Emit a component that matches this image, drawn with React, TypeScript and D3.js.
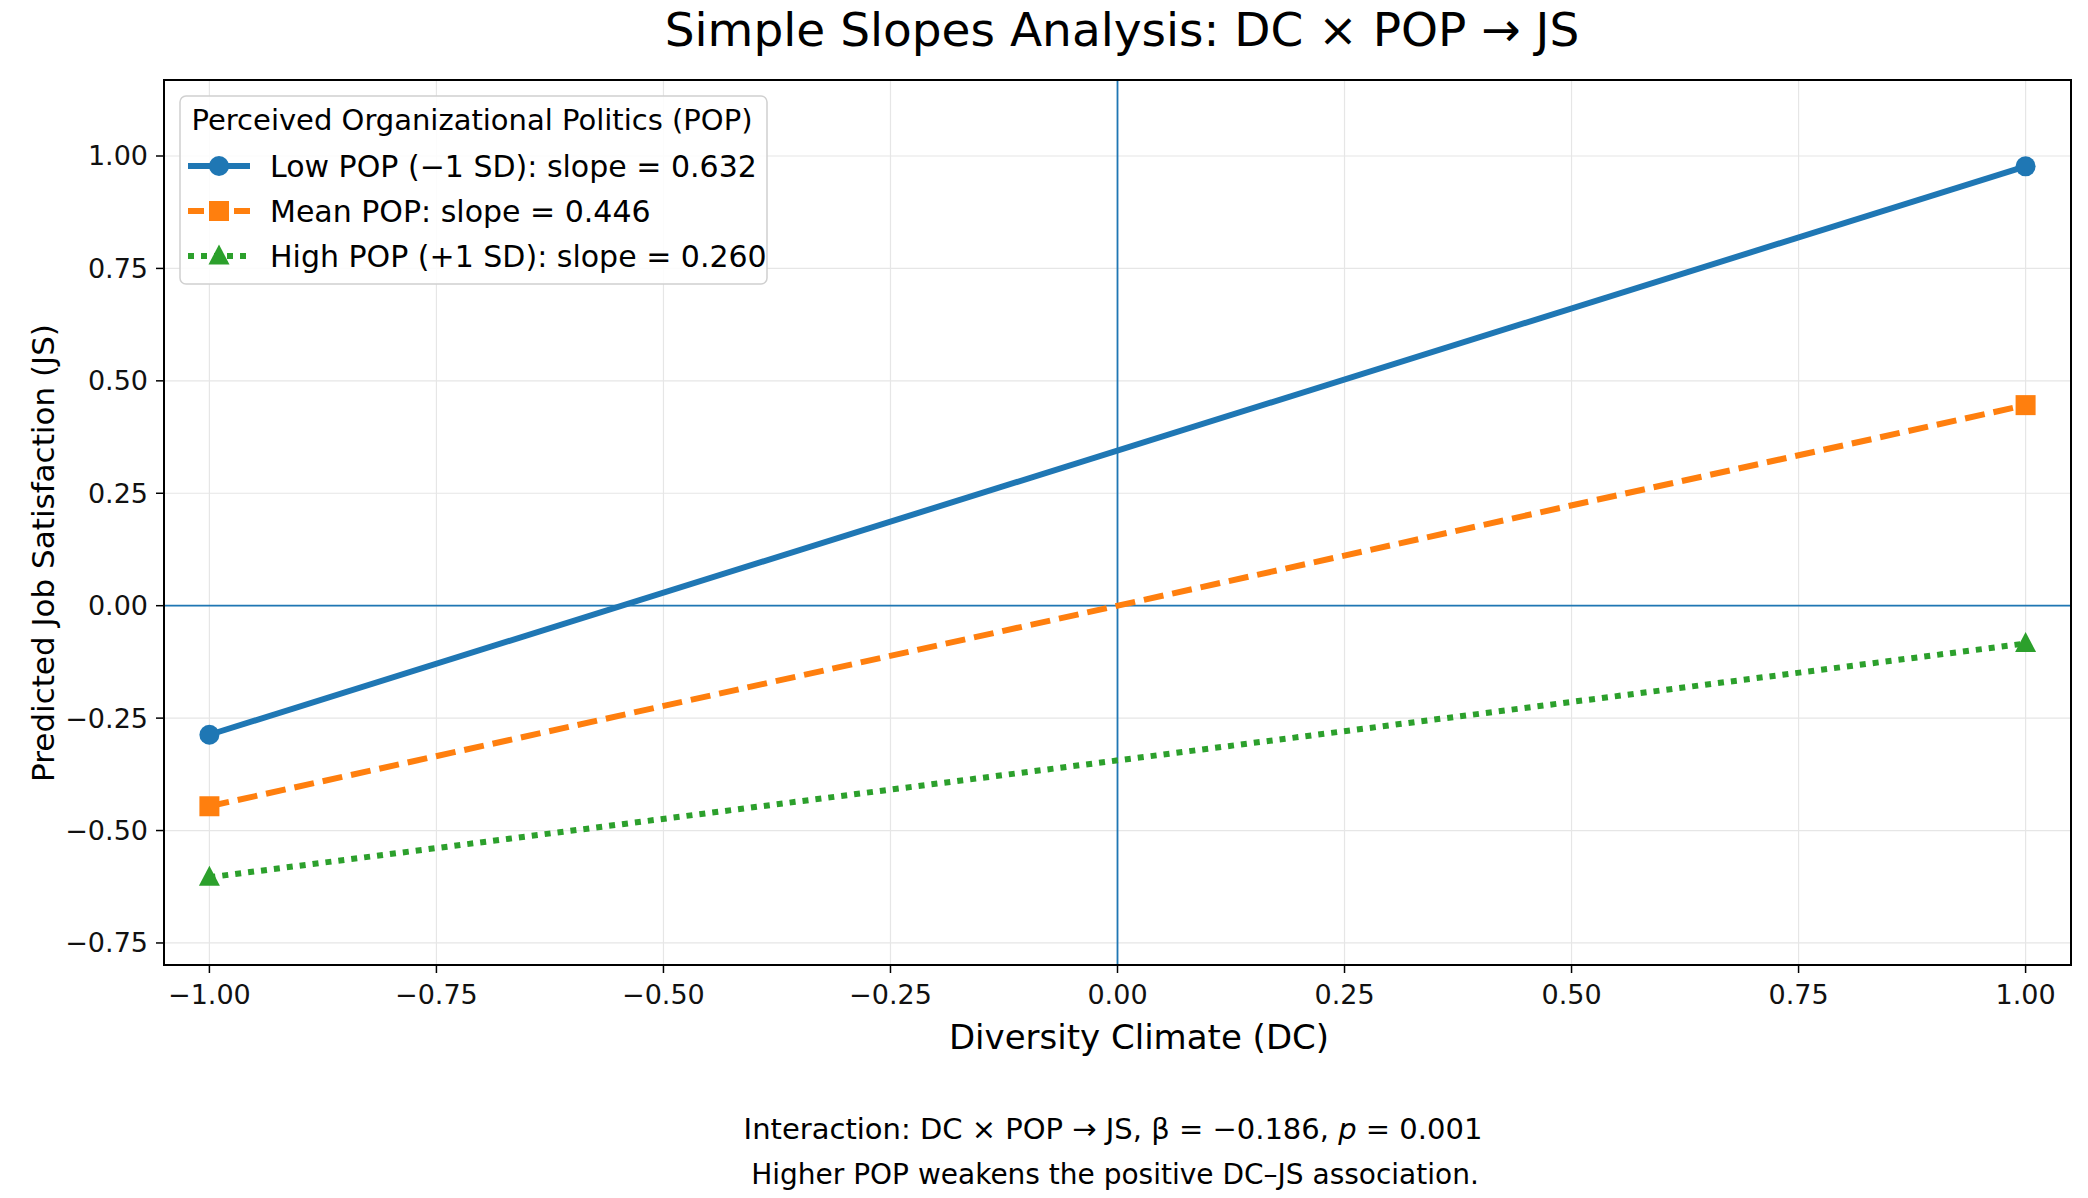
import { useEffect, useRef } from "react";
import * as d3 from "d3";

// DC levels (-1 SD, +1 SD)
const xLevels = [-1, 1];
const seriesNames = ["Low POP (\u22121 SD): slope = 0.632", "Mean POP: slope = 0.446", "High POP (+1 SD): slope = 0.260"];
const lowValues = [-0.287, 0.977];
const meanValues = [-0.446, 0.446];
const highValues = [-0.604, -0.084];
const colors = ["#1f77b4", "#ff7f0e", "#2ca02c"];
const dashes = ["none", "20,9", "6,7"];
const markers = ["circle", "square", "triangle"];
const xTicks = [-1, -0.75, -0.5, -0.25, 0, 0.25, 0.5, 0.75, 1];
const yTicks = [-0.75, -0.5, -0.25, 0, 0.25, 0.5, 0.75, 1];

const W = 2088;
const H = 1198;
const FONT = "DejaVu Sans, sans-serif";

export default function App() {
  const ref = useRef<SVGSVGElement>(null);

  useEffect(() => {
    const svg = d3.select(ref.current);
    svg.selectAll("*").remove();

    const left = 164, right = 2071, top = 80, bottom = 965;
    const x = d3.scaleLinear().domain([-1.05, 1.05]).range([left, right]);
    const y = d3.scaleLinear().domain([-0.799, 1.169]).range([bottom, top]);

    svg.append("rect").attr("width", W).attr("height", H).attr("fill", "#fff");

    // grid
    const grid = svg.append("g").attr("stroke", "#e6e6e6").attr("stroke-width", 1.2);
    xTicks.forEach((t) => grid.append("line").attr("x1", x(t)).attr("x2", x(t)).attr("y1", top).attr("y2", bottom));
    yTicks.forEach((t) => grid.append("line").attr("y1", y(t)).attr("y2", y(t)).attr("x1", left).attr("x2", right));

    // reference lines
    svg.append("line").attr("x1", x(0)).attr("x2", x(0)).attr("y1", top).attr("y2", bottom)
      .attr("stroke", "#1f77b4").attr("stroke-width", 1.8);
    svg.append("line").attr("y1", y(0)).attr("y2", y(0)).attr("x1", left).attr("x2", right)
      .attr("stroke", "#1f77b4").attr("stroke-width", 1.8);

    const allSeries = [lowValues, meanValues, highValues];
    const line = d3.line<number>().x((_d, i) => x(xLevels[i])).y((d) => y(d));

    const drawMarker = (g: any, kind: string, cx: number, cy: number, color: string, s: number) => {
      if (kind === "circle") g.append("circle").attr("cx", cx).attr("cy", cy).attr("r", s).attr("fill", color);
      else if (kind === "square") g.append("rect").attr("x", cx - s).attr("y", cy - s).attr("width", 2 * s).attr("height", 2 * s).attr("fill", color);
      else g.append("path").attr("d", `M${cx},${cy - s * 1.15}L${cx + s * 1.05},${cy + s * 0.85}L${cx - s * 1.05},${cy + s * 0.85}Z`).attr("fill", color);
    };

    allSeries.forEach((vals, k) => {
      svg.append("path").attr("d", line(vals)).attr("fill", "none").attr("stroke", colors[k])
        .attr("stroke-width", 6).attr("stroke-dasharray", dashes[k]);
      vals.forEach((v, i) => drawMarker(svg, markers[k], x(xLevels[i]), y(v), colors[k], 10));
    });

    // frame
    svg.append("rect").attr("x", left).attr("y", top).attr("width", right - left).attr("height", bottom - top)
      .attr("fill", "none").attr("stroke", "#000").attr("stroke-width", 2);

    // ticks
    const tk = svg.append("g").attr("font-family", FONT).attr("font-size", 27).attr("fill", "#111");
    xTicks.forEach((t) => {
      tk.append("line").attr("x1", x(t)).attr("x2", x(t)).attr("y1", bottom).attr("y2", bottom + 8).attr("stroke", "#000").attr("stroke-width", 1.5);
      tk.append("text").attr("x", x(t)).attr("y", bottom + 39).attr("text-anchor", "middle").text(d3.format(".2f")(t).replace("-", "\u2212"));
    });
    yTicks.forEach((t) => {
      tk.append("line").attr("x1", left - 8).attr("x2", left).attr("y1", y(t)).attr("y2", y(t)).attr("stroke", "#000").attr("stroke-width", 1.5);
      tk.append("text").attr("x", left - 16).attr("y", y(t)).attr("dy", "0.35em").attr("text-anchor", "end").text(d3.format(".2f")(t).replace("-", "\u2212"));
    });

    // labels
    svg.append("text").attr("x", 1122).attr("y", 46).attr("text-anchor", "middle").attr("font-family", FONT)
      .attr("font-size", 47).text("Simple Slopes Analysis: DC \u00d7 POP \u2192 JS");
    svg.append("text").attr("x", 1139).attr("y", 1049).attr("text-anchor", "middle").attr("font-family", FONT)
      .attr("font-size", 34).text("Diversity Climate (DC)");
    svg.append("text").attr("transform", `translate(54,553) rotate(-90)`).attr("text-anchor", "middle")
      .attr("font-family", FONT).attr("font-size", 31).text("Predicted Job Satisfaction (JS)");

    const foot = svg.append("text").attr("x", 1113).attr("y", 1139).attr("text-anchor", "middle")
      .attr("font-family", FONT).attr("font-size", 29);
    foot.append("tspan").text("Interaction: DC \u00d7 POP \u2192 JS, \u03b2 = \u22120.186, ");
    foot.append("tspan").attr("font-style", "italic").text("p");
    foot.append("tspan").text(" = 0.001");
    svg.append("text").attr("x", 1115).attr("y", 1184).attr("text-anchor", "middle")
      .attr("font-family", FONT).attr("font-size", 28).text("Higher POP weakens the positive DC\u2013JS association.");

    // legend
    const lg = svg.append("g").attr("font-family", FONT);
    lg.append("rect").attr("x", 180).attr("y", 96).attr("width", 587).attr("height", 188).attr("rx", 6)
      .attr("fill", "#fff").attr("fill-opacity", 0.85).attr("stroke", "#d0d0d0").attr("stroke-width", 1.5);
    lg.append("text").attr("x", 472).attr("y", 130).attr("text-anchor", "middle").attr("font-size", 29).text("Perceived Organizational Politics (POP)");
    seriesNames.forEach((name, k) => {
      const yy = 166 + k * 45;
      lg.append("line").attr("x1", 188).attr("x2", 250).attr("y1", yy).attr("y2", yy).attr("stroke", colors[k])
        .attr("stroke-width", 6).attr("stroke-dasharray", dashes[k] === "none" ? "none" : k === 1 ? "16,30" : "6,7");
      drawMarker(lg, markers[k], 219, yy, colors[k], 10);
      lg.append("text").attr("x", 270).attr("y", yy).attr("dy", "0.35em").attr("font-size", 30).text(name);
    });
  }, []);

  return <svg ref={ref} width={W} height={H} style={{ position: "absolute", left: 0, top: 0 }} />;
}
